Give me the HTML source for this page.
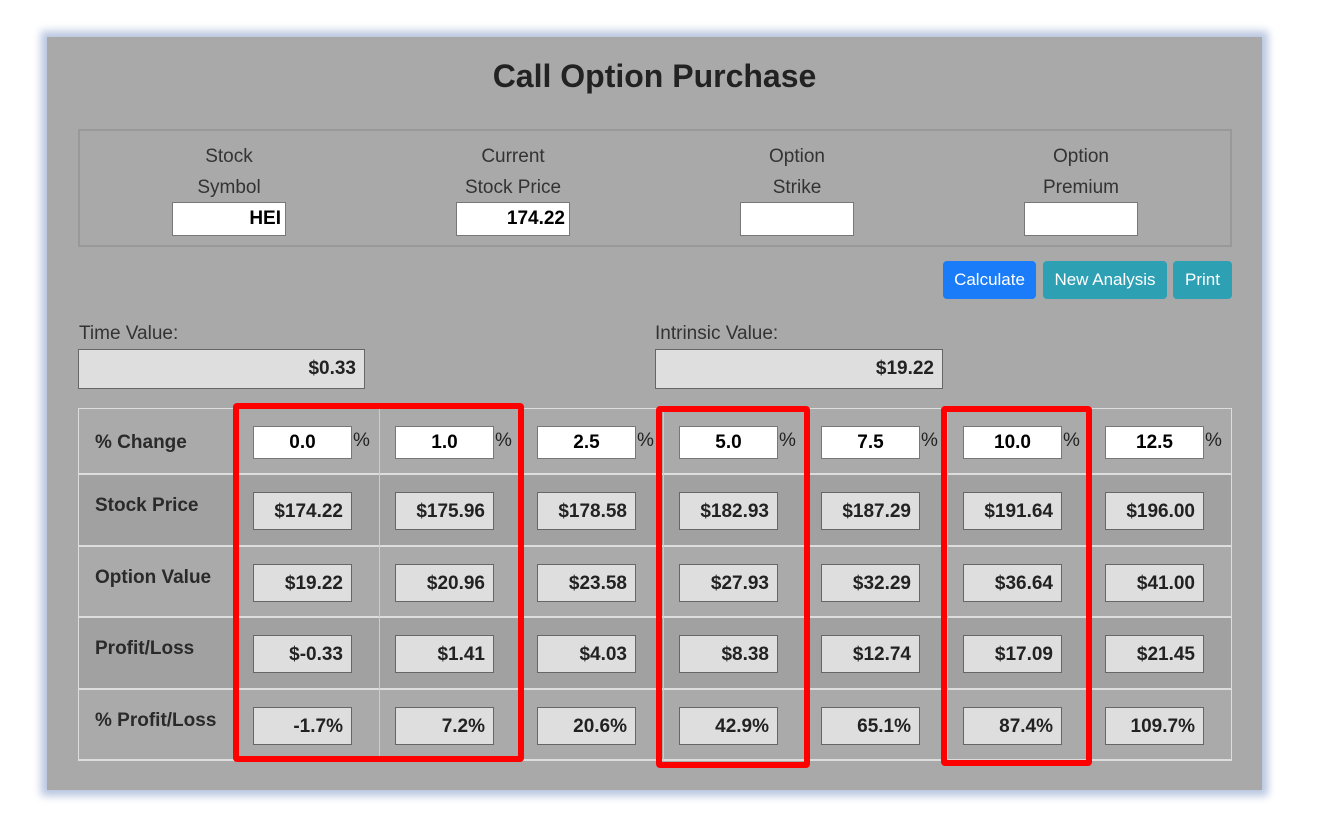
<!DOCTYPE html>
<html><head><meta charset="utf-8"><style>
body{margin:0;width:1324px;height:816px;background:#fff;position:relative;overflow:hidden;font-family:"Liberation Sans",sans-serif;color:#222}
.abs{position:absolute;box-sizing:border-box}
#panel{left:47px;top:37px;width:1215px;height:753px;background:#a9a9a9;box-shadow:0 0 8px 6px #b8c6e0}
.lbl{text-align:center;font-size:19px;color:#333;line-height:31px}
.inp{background:#fff;border:1px solid #777;font-weight:bold;font-size:19px;text-align:right;padding-right:4px;color:#000;line-height:32px}
.btn{color:#fff;border-radius:4px;font-size:17px;text-align:center;line-height:37px}
.out{background:#dedede;border:1px solid #666;font-weight:bold;font-size:19px;text-align:right;padding-right:8px;line-height:37px;color:#222}
.rl{font-weight:bold;font-size:19px;color:#2a2a2a}
.red{border:6px solid #f00;border-radius:4px}
</style></head><body>
<div class="abs" id="panel"></div>
<div class="abs" style="left:47px;width:1215px;top:58px;text-align:center;font-size:32px;font-weight:bold;color:#222">Call Option Purchase</div>
<div class="abs" style="left:78px;top:129px;width:1154px;height:118px;border:2px solid #999"></div>
<div class="abs lbl" style="left:129px;top:141px;width:200px">Stock<br>Symbol</div>
<div class="abs inp" style="left:172px;top:202px;width:114px;height:34px">HEI</div>
<div class="abs lbl" style="left:413px;top:141px;width:200px">Current<br>Stock Price</div>
<div class="abs inp" style="left:456px;top:202px;width:114px;height:34px">174.22</div>
<div class="abs lbl" style="left:697px;top:141px;width:200px">Option<br>Strike</div>
<div class="abs inp" style="left:740px;top:202px;width:114px;height:34px"></div>
<div class="abs lbl" style="left:981px;top:141px;width:200px">Option<br>Premium</div>
<div class="abs inp" style="left:1024px;top:202px;width:114px;height:34px"></div>
<div class="abs btn" style="left:943px;top:261px;width:93px;height:38px;background:#1a7cf9">Calculate</div>
<div class="abs btn" style="left:1043px;top:261px;width:124px;height:38px;background:#2ea0b3">New Analysis</div>
<div class="abs btn" style="left:1173px;top:261px;width:59px;height:38px;background:#2ea0b3">Print</div>
<div class="abs" style="left:79px;top:323px;font-size:19px;color:#333">Time Value:</div>
<div class="abs out" style="left:78px;top:349px;width:287px;height:40px;line-height:38px">$0.33</div>
<div class="abs" style="left:655px;top:323px;font-size:19px;color:#333">Intrinsic Value:</div>
<div class="abs out" style="left:655px;top:349px;width:288px;height:40px;line-height:38px">$19.22</div>
<div id="tbl"></div>
<div class="abs red" style="left:233px;top:403px;width:291px;height:359px"></div>
<div class="abs red" style="left:656px;top:406px;width:154px;height:362px"></div>
<div class="abs red" style="left:941px;top:406px;width:151px;height:360px"></div>
<script>
const pctChanges=["0.0","1.0","2.5","5.0","7.5","10.0","12.5"];
const stockPrices=["$174.22","$175.96","$178.58","$182.93","$187.29","$191.64","$196.00"];
const optionValues=["$19.22","$20.96","$23.58","$27.93","$32.29","$36.64","$41.00"];
const profits=["$-0.33","$1.41","$4.03","$8.38","$12.74","$17.09","$21.45"];
const pctProfits=["-1.7%","7.2%","20.6%","42.9%","65.1%","87.4%","109.7%"];
const rowLabels=["% Change","Stock Price","Option Value","Profit/Loss","% Profit/Loss"];
const rows=[pctChanges,stockPrices,optionValues,profits,pctProfits];
const rowTops=[408,475,547,618,690,761];
const t=document.getElementById('tbl');
function mk(cls,st,txt){const d=document.createElement('div');d.className='abs '+cls;d.style.cssText=st;if(txt!=null)d.textContent=txt;t.appendChild(d);return d;}
for(let r=0;r<5;r++){
  const top=rowTops[r],h=rowTops[r+1]-top;
  const bg=mk('', `left:78px;top:${top}px;width:1154px;height:${h}px;background:${r%2?'#a1a1a1':'#aaaaaa'};border:1px solid #ddd;border-top:${r?0:1}px solid #ddd;border-bottom:2px solid #ddd`);
  
  
  const l=mk('rl',`left:95px;top:${top+(r?20:24)}px`,rowLabels[r]);
  
  
  for(let c=0;c<7;c++){
    const x=237+c*142;
    if(r===0){
      const i=mk('inp',`left:${x+16}px;top:426px;width:99px;height:33px;text-align:center;padding:0`,rows[r][c]);
      
      
      const p=mk('',`left:${x+116}px;top:430px;font-size:19px;color:#222`,'%');
      
      
    } else {
      const o=mk('out',`left:${x+16}px;top:${top+(h-38)/2}px;width:99px;height:38px`,rows[r][c]);
      
      
    }
  }
}
for(let c=0;c<7;c++){
  const v=mk('',`left:${237+c*142}px;top:408px;width:1px;height:353px;background:#ccc`);
  
  
}
</script>
</body></html>
